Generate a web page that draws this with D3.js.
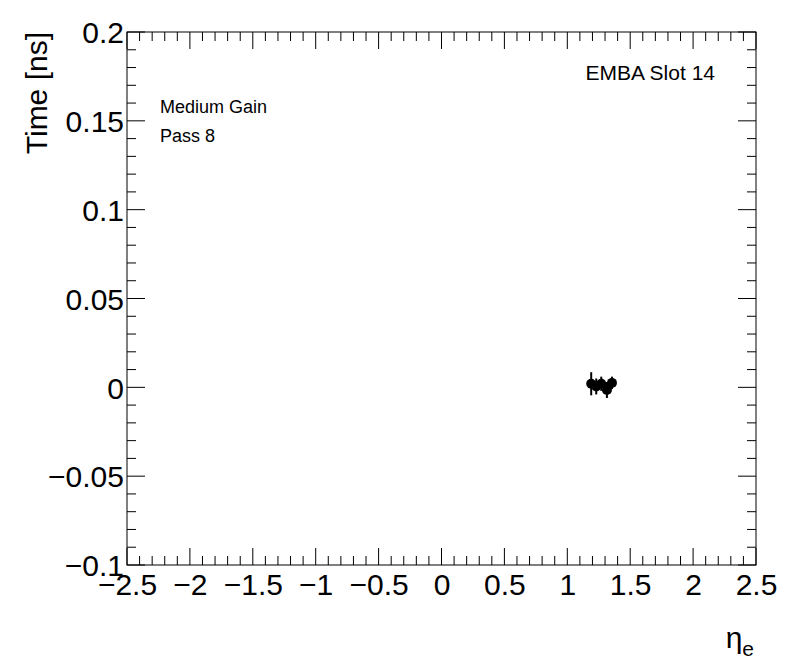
<!DOCTYPE html>
<html><head><meta charset="utf-8">
<script src="https://cdn.jsdelivr.net/npm/d3@7"></script>
<style>body{margin:0;background:#fff}svg{display:block}text{font-family:"Liberation Sans",Arial,Helvetica,sans-serif;fill:#000}</style>
</head><body>
<script>
const etaValues = [1.19, 1.23, 1.27, 1.315, 1.355];
const timeValues = [0.002, 0.0005, 0.002, -0.0015, 0.0025];
const timeErrors = [0.0065, 0.0045, 0.004, 0.0045, 0.0035];
const xTicks = [-2.5, -2, -1.5, -1, -0.5, 0, 0.5, 1, 1.5, 2, 2.5];
const yTicks = [-0.1, -0.05, 0, 0.05, 0.1, 0.15, 0.2];
const labels = ["EMBA Slot 14", "Medium Gain", "Pass 8"];

const W = 796, H = 672;
const L = 127, R = 756, T = 32, B = 565;
const svg = d3.select("body").append("svg").attr("width", W).attr("height", H);
const x = d3.scaleLinear().domain([-2.5, 2.5]).range([L, R]);
const y = d3.scaleLinear().domain([-0.1, 0.2]).range([B, T]);
const fmt = v => (v < 0 ? "\u2212" : "") + String(Math.abs(v));

const g = svg.append("g");
const xMinor = d3.range(-25, 26).map(i => i / 10);
const yMinor = d3.range(-10, 21).map(i => i / 100);
const isMajorX = v => Math.abs(v * 2 - Math.round(v * 2)) < 1e-9;
const isMajorY = v => Math.abs(v * 20 - Math.round(v * 20)) < 1e-9;
xMinor.forEach(v => {
  const len = isMajorX(v) ? 17 : 9;
  g.append("line").attr("x1", x(v)).attr("x2", x(v)).attr("y1", B).attr("y2", B - len).attr("stroke", "#000");
  g.append("line").attr("x1", x(v)).attr("x2", x(v)).attr("y1", T).attr("y2", T + len).attr("stroke", "#000");
});
yMinor.forEach(v => {
  const len = isMajorY(v) ? 18 : 9;
  g.append("line").attr("y1", y(v)).attr("y2", y(v)).attr("x1", L).attr("x2", L + len).attr("stroke", "#000");
  g.append("line").attr("y1", y(v)).attr("y2", y(v)).attr("x1", R).attr("x2", R - len).attr("stroke", "#000");
});
g.append("rect").attr("x", L).attr("y", T).attr("width", R - L).attr("height", B - T)
  .attr("fill", "none").attr("stroke", "#000").attr("stroke-width", 1);

const xa = svg.append("g").attr("transform", `translate(0,${B})`)
  .call(d3.axisBottom(x).tickValues(xTicks).tickFormat(fmt).tickSize(0).tickPadding(0));
xa.select(".domain").remove();
xa.selectAll("text").attr("font-size", 30).attr("font-family", "Liberation Sans, Arial, sans-serif").attr("dy", "0.95em").attr("y", 1);
const ya = svg.append("g").attr("transform", `translate(${L},0)`)
  .call(d3.axisLeft(y).tickValues(yTicks).tickFormat(fmt).tickSize(0).tickPadding(3));
ya.select(".domain").remove();
ya.selectAll("text").attr("font-size", 30).attr("font-family", "Liberation Sans, Arial, sans-serif").attr("dy", "0.36em");

svg.append("text").attr("transform", `translate(47,${T}) rotate(-90)`).attr("text-anchor", "end")
  .attr("font-size", 30).text("Time [ns]");
const xt = svg.append("text").attr("x", R - 2).attr("y", 648).attr("text-anchor", "end").attr("font-size", 30);
xt.append("tspan").text("\u03b7");
xt.append("tspan").attr("font-size", 21).attr("dy", 8).text("e");

svg.append("text").attr("x", 715).attr("y", 80).attr("text-anchor", "end").attr("font-size", 21).text(labels[0]);
svg.append("text").attr("x", 160).attr("y", 113).attr("font-size", 18).text(labels[1]);
svg.append("text").attr("x", 160).attr("y", 142).attr("font-size", 18).text(labels[2]);

const pts = etaValues.map((e, i) => ({e, t: timeValues[i], err: timeErrors[i]}));
svg.append("g").selectAll("line").data(pts).join("line")
  .attr("x1", d => x(d.e)).attr("x2", d => x(d.e))
  .attr("y1", d => y(d.t + d.err)).attr("y2", d => y(d.t - d.err))
  .attr("stroke", "#000").attr("stroke-width", 2);
svg.append("g").selectAll("circle").data(pts).join("circle")
  .attr("cx", d => x(d.e)).attr("cy", d => y(d.t)).attr("r", 5).attr("fill", "#000");
</script>
</body></html>
